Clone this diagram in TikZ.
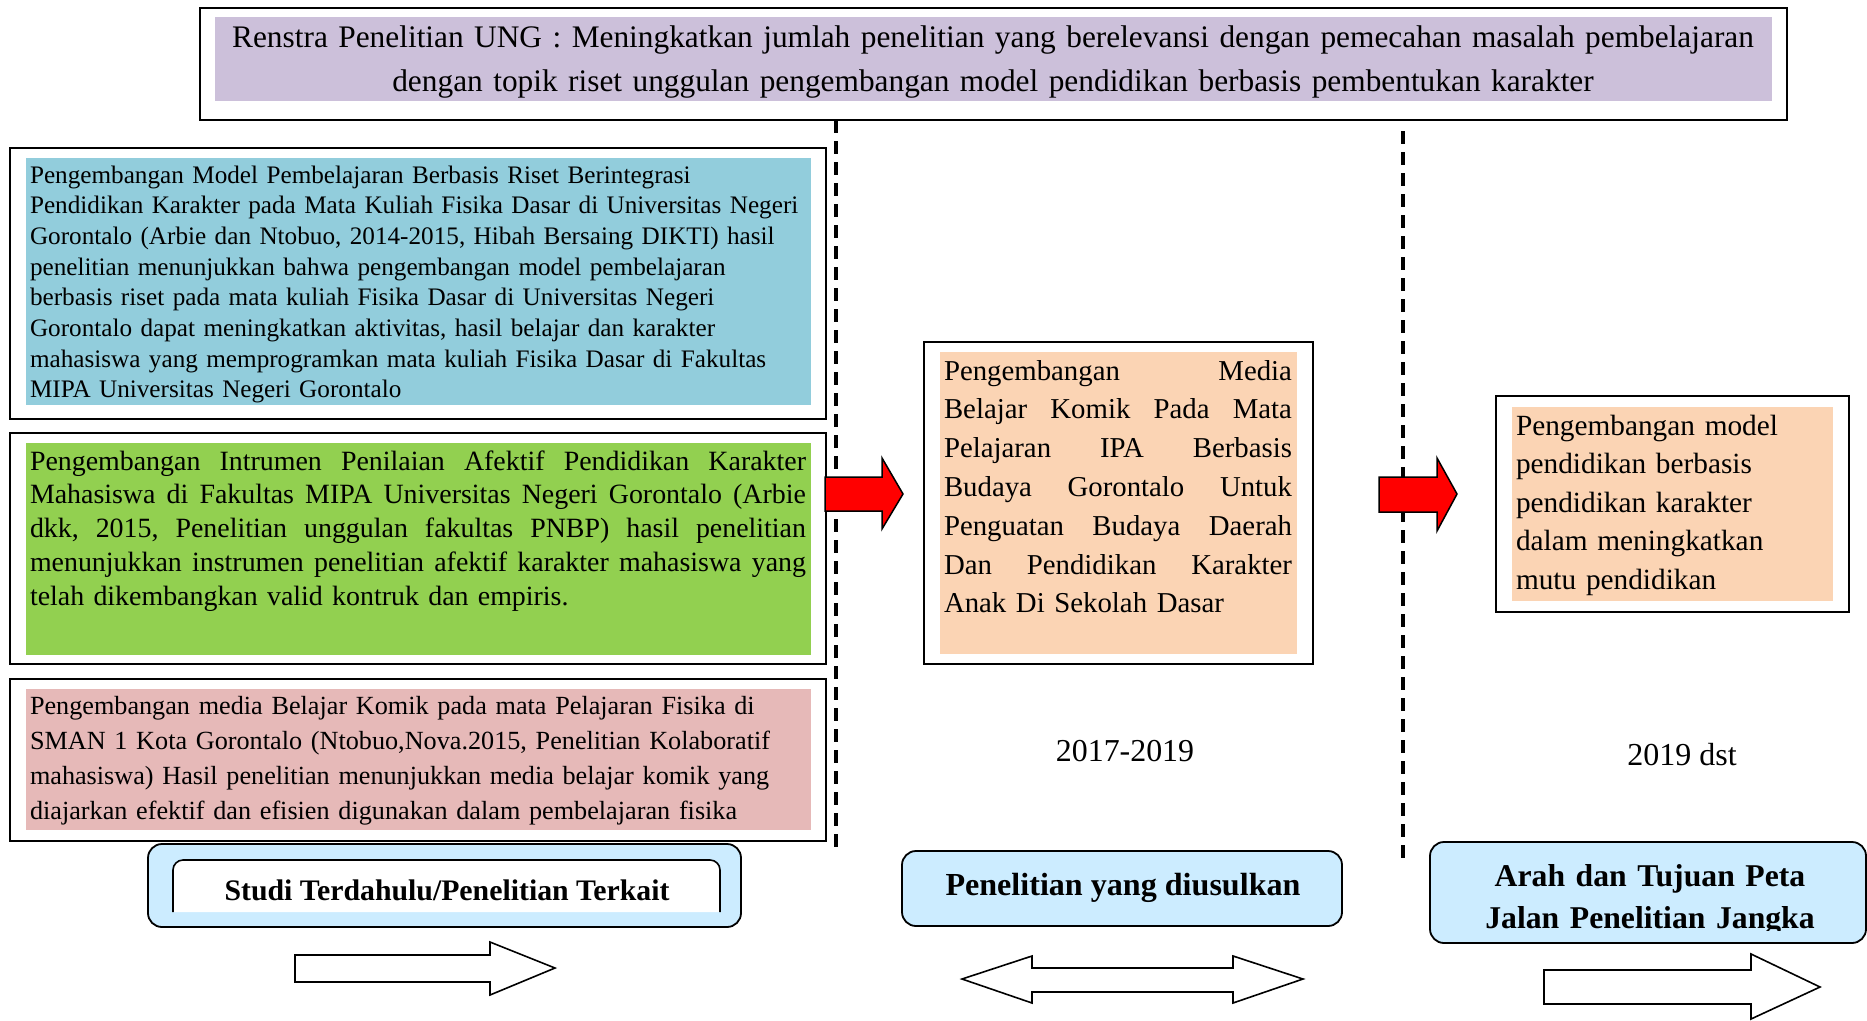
\documentclass[tikz,border=0pt]{standalone}
\usepackage{fontspec}
\setmainfont{Liberation Serif}
\hbadness=10000
\hfuzz=60pt
\definecolor{purplebg}{HTML}{CCC0DA}
\definecolor{bluebg}{HTML}{92CDDC}
\definecolor{greenbg}{HTML}{92D050}
\definecolor{pinkbg}{HTML}{E6B9B8}
\definecolor{peachbg}{HTML}{FBD4B4}
\definecolor{labelbg}{HTML}{CCECFF}
\definecolor{arrowred}{HTML}{FF0000}
\newcommand{\jline}[2]{\leavevmode\hbox to #1{#2}}
\newcommand{\jsp}{\hskip 0pt plus 1fill\relax}
\begin{document}
\begin{tikzpicture}[x=1pt,y=-1pt,
  frame/.style={draw=black,line width=2.2pt,fill=white,anchor=north west,outer sep=0pt,inner sep=0pt},
  fillrect/.style={fill=#1,draw=none,anchor=north west,outer sep=0pt,inner sep=0pt},
  labelbox/.style={draw=black,line width=1.8pt,fill=labelbg,rounded corners=14pt,anchor=north west,outer sep=0pt,inner sep=0pt},
  txt/.style={anchor=base west,inner sep=0pt,outer sep=0pt,align=left},
  divider/.style={draw=black,line width=3.3pt,dash pattern=on 13pt off 8pt},
  redarrow/.style={fill=arrowred,draw=black,line width=1.5pt,line join=miter},
  whitearrow/.style={fill=white,draw=black,line width=1.6pt,line join=miter}]
\useasboundingbox[fill=white] (0,0) rectangle (1867,1020);

% ---------- top box ----------
\node[frame,minimum width=1587pt,minimum height=112pt] (top) at (200,8) {};
\node[fillrect=purplebg,minimum width=1557pt,minimum height=84pt] (topfill) at (215,17) {};
\node[anchor=base,inner sep=0pt,text width=1600pt,align=center,
      font=\fontsize{31.35}{43.5}\selectfont] (toptext) at (993,47.5)
  {Renstra Penelitian UNG : Meningkatkan jumlah penelitian yang berelevansi dengan pemecahan masalah pembelajaran\\
   dengan topik riset unggulan pengembangan model pendidikan berbasis pembentukan karakter};

% ---------- left column ----------
\node[frame,minimum width=816pt,minimum height=271pt] (b1) at (10,148) {};
\node[fillrect=bluebg,minimum width=785pt,minimum height=247pt] (b1fill) at (26,158) {};
\node[txt,text width=900pt,font=\fontsize{25.2}{30.7}\selectfont] (t1) at (30,183)
  {Pengembangan Model Pembelajaran Berbasis Riset Berintegrasi\\
   Pendidikan Karakter pada Mata Kuliah Fisika Dasar di Universitas Negeri\\
   Gorontalo (Arbie dan Ntobuo, 2014-2015, Hibah Bersaing DIKTI) hasil\\
   penelitian menunjukkan bahwa pengembangan model pembelajaran\\
   berbasis riset pada mata kuliah Fisika Dasar di Universitas Negeri\\
   Gorontalo dapat meningkatkan aktivitas, hasil belajar dan karakter\\
   mahasiswa yang memprogramkan mata kuliah Fisika Dasar di Fakultas\\
   MIPA Universitas Negeri Gorontalo};

\node[frame,minimum width=816pt,minimum height=231pt] (b2) at (10,433) {};
\node[fillrect=greenbg,minimum width=785pt,minimum height=212pt] (b2fill) at (26,443) {};
\node[txt,text width=900pt,font=\fontsize{27.9}{33.8}\selectfont] (t2) at (30,470)
  {\jline{776pt}{Pengembangan\jsp Intrumen\jsp Penilaian\jsp Afektif\jsp Pendidikan\jsp Karakter}\\
   \jline{776pt}{Mahasiswa\jsp di\jsp Fakultas\jsp MIPA\jsp Universitas\jsp Negeri\jsp Gorontalo\jsp (Arbie}\\
   \jline{776pt}{dkk,\jsp 2015,\jsp Penelitian\jsp unggulan\jsp fakultas\jsp PNBP)\jsp hasil\jsp penelitian}\\
   \jline{776pt}{menunjukkan\jsp instrumen\jsp penelitian\jsp afektif\jsp karakter\jsp mahasiswa\jsp yang}\\
   telah dikembangkan valid kontruk dan empiris.};

\node[frame,minimum width=816pt,minimum height=162pt] (b3) at (10,679) {};
\node[fillrect=pinkbg,minimum width=785pt,minimum height=141pt] (b3fill) at (26,689) {};
\node[txt,text width=900pt,font=\fontsize{26.2}{35.1}\selectfont] (t3) at (30,714)
  {Pengembangan media Belajar Komik pada mata Pelajaran Fisika di\\
   SMAN 1 Kota Gorontalo (Ntobuo,Nova.2015, Penelitian Kolaboratif\\
   mahasiswa) Hasil penelitian menunjukkan media belajar komik yang\\
   diajarkan efektif dan efisien digunakan dalam pembelajaran fisika};

% ---------- middle box ----------
\node[frame,minimum width=389pt,minimum height=322pt] (b4) at (924,342) {};
\node[fillrect=peachbg,minimum width=357pt,minimum height=302pt] (b4fill) at (940,352) {};
\node[txt,text width=400pt,font=\fontsize{28.8}{38.8}\selectfont] (t4) at (944,380)
  {\jline{348pt}{Pengembangan\jsp Media}\\
   \jline{348pt}{Belajar\jsp Komik\jsp Pada\jsp Mata}\\
   \jline{348pt}{Pelajaran\jsp IPA\jsp Berbasis}\\
   \jline{348pt}{Budaya\jsp Gorontalo\jsp Untuk}\\
   \jline{348pt}{Penguatan\jsp Budaya\jsp Daerah}\\
   \jline{348pt}{Dan\jsp Pendidikan\jsp Karakter}\\
   Anak Di Sekolah Dasar};

% ---------- right box ----------
\node[frame,minimum width=353pt,minimum height=216pt] (b5) at (1496,396) {};
\node[fillrect=peachbg,minimum width=321pt,minimum height=194pt] (b5fill) at (1512,407) {};
\node[txt,text width=330pt,font=\fontsize{29.3}{38.6}\selectfont] (t5) at (1516,435)
  {Pengembangan model\\
   pendidikan berbasis\\
   pendidikan karakter\\
   dalam meningkatkan\\
   mutu pendidikan};

% ---------- years ----------
\node[anchor=base,inner sep=0pt,font=\fontsize{31.9}{38}\selectfont] (y1) at (1125,761) {2017-2019};
\node[anchor=base,inner sep=0pt,font=\fontsize{32}{38}\selectfont] (y2) at (1682,765) {2019 dst};

% ---------- dividers ----------
\coordinate (d1a) at (836,120);
\coordinate (d1b) at (836,850);
\coordinate (d2a) at (1403,131);
\coordinate (d2b) at (1403,862);
\draw[divider] (d1a) -- (d1b);
\draw[divider] (d2a) -- (d2b);

% ---------- red arrows ----------
\draw[redarrow] (825,477) -- (882,477) -- (882,458) -- (903,494) -- (882,529) -- (882,511) -- (825,511) -- cycle;
\draw[redarrow] (1379,477) -- (1437,477) -- (1437,458) -- (1457,494) -- (1437,531) -- (1437,512) -- (1379,512) -- cycle;

% ---------- bottom labels ----------
\node[labelbox,minimum width=593pt,minimum height=83pt] (l1) at (148,844) {};
\fill[white,rounded corners=10pt] (173,912) -- (173,860) -- (720,860) -- (720,912);
\draw[black,line width=1.6pt,rounded corners=10pt] (173,912) -- (173,860) -- (720,860) -- (720,912);
\node[anchor=base,inner sep=0pt,font=\bfseries\fontsize{29.8}{35}\selectfont] (l1t) at (447,900) {Studi Terdahulu/Penelitian Terkait};

\node[labelbox,minimum width=440pt,minimum height=75pt] (l2) at (902,851) {};
\node[anchor=base,inner sep=0pt,font=\bfseries\fontsize{32.1}{37}\selectfont] (l2t) at (1123,895) {Penelitian yang diusulkan};

\node[labelbox,minimum width=436pt,minimum height=101pt] (l3) at (1430,842) {};
\begin{scope}
  \clip (1432,844) rectangle (1864,930);
  \node[anchor=base,inner sep=0pt,text width=430pt,align=center,font=\bfseries\fontsize{31.7}{42}\selectfont] (l3t) at (1650,886)
    {Arah dan Tujuan Peta\\Jalan Penelitian Jangka};
\end{scope}

% ---------- white block arrows ----------
\draw[whitearrow] (295,955) -- (490,955) -- (490,942) -- (555,968) -- (490,995) -- (490,982) -- (295,982) -- cycle;
\draw[whitearrow] (962,979) -- (1032,956) -- (1032,968) -- (1233,968) -- (1233,956) -- (1303,979) -- (1233,1003) -- (1233,992) -- (1032,992) -- (1032,1003) -- cycle;
\draw[whitearrow] (1544,970) -- (1751,970) -- (1751,954) -- (1820,987) -- (1751,1019) -- (1751,1004) -- (1544,1004) -- cycle;
\end{tikzpicture}
\end{document}
